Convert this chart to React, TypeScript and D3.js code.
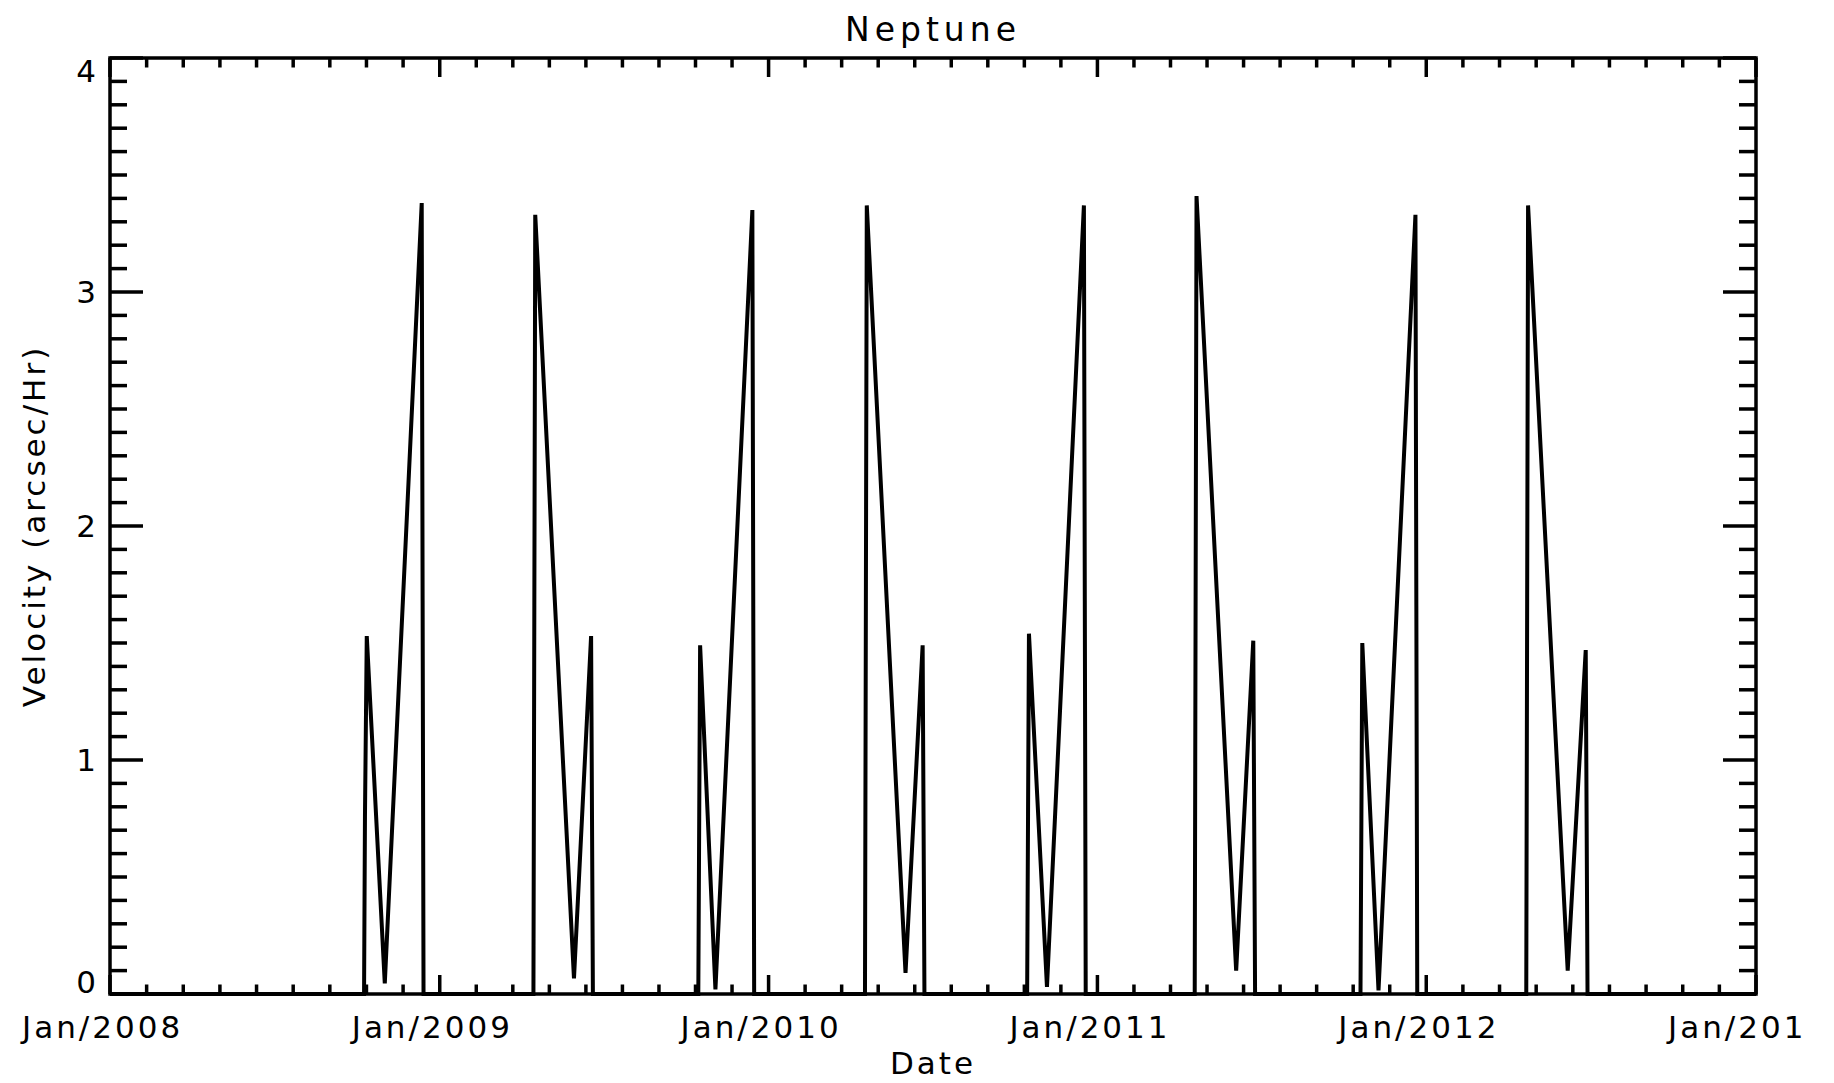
import React from "react";
import * as d3 from "d3";

const sampleDates: string[] = [
  "2008-01-01",
  "2008-10-09", "2008-10-10", "2008-10-12", "2008-11-01", "2008-12-12", "2008-12-13", "2008-12-14",
  "2009-04-15", "2009-04-16", "2009-04-17", "2009-05-30", "2009-06-18", "2009-06-19", "2009-06-20",
  "2009-10-15", "2009-10-16", "2009-10-17", "2009-11-03", "2009-12-14", "2009-12-15", "2009-12-16",
  "2010-04-18", "2010-04-19", "2010-04-20", "2010-06-02", "2010-06-21", "2010-06-22", "2010-06-23",
  "2010-10-15", "2010-10-16", "2010-10-17", "2010-11-06", "2010-12-17", "2010-12-18", "2010-12-19",
  "2011-04-19", "2011-04-20", "2011-04-21", "2011-06-04", "2011-06-23", "2011-06-24", "2011-06-25",
  "2011-10-20", "2011-10-21", "2011-10-22", "2011-11-09", "2011-12-20", "2011-12-21", "2011-12-22",
  "2012-04-21", "2012-04-22", "2012-04-23", "2012-06-06", "2012-06-26", "2012-06-27", "2012-06-28",
  "2013-01-01",
];

const velocities: number[] = [
  0,
  0, 0.76, 1.53, 0.045, 3.38, 1.68, 0,
  0, 1.66, 3.33, 0.067, 1.53, 0.76, 0,
  0, 0.75, 1.49, 0.02, 3.35, 1.66, 0,
  0, 1.68, 3.37, 0.09, 1.49, 0.75, 0,
  0, 0.77, 1.54, 0.03, 3.37, 1.68, 0,
  0, 1.7, 3.41, 0.1, 1.51, 0.76, 0,
  0, 0.75, 1.5, 0.015, 3.33, 1.66, 0,
  0, 1.69, 3.37, 0.1, 1.47, 0.74, 0,
  0,
];

const xTickDates: string[] = ["2008-01-01", "2009-01-01", "2010-01-01", "2011-01-01", "2012-01-01", "2013-01-01"];
const xTickLabels: string[] = ["Jan/2008", "Jan/2009", "Jan/2010", "Jan/2011", "Jan/2012", "Jan/201"];
const yTickValues: number[] = [0, 1, 2, 3, 4];
const yTickLabels: string[] = ["0", "1", "2", "3", "4"];

const W = 1834;
const H = 1083;
const L = 110, R = 1756, T = 58, B = 994;
const FONT = "'DejaVu Sans', sans-serif";

export default function App() {
  const parse = d3.utcParse("%Y-%m-%d");
  const xTicks = xTickDates.map((d) => parse(d) as Date);
  const x = d3.scaleUtc().domain([xTicks[0], xTicks[xTicks.length - 1]]).range([L, R]);
  const y = d3.scaleLinear().domain([0, 4]).range([B, T]);

  const data = sampleDates.map((d, i) => ({ date: parse(d) as Date, v: velocities[i] }));
  const line = d3
    .line<{ date: Date; v: number }>()
    .x((d) => x(d.date))
    .y((d) => y(d.v));

  // minor ticks: 9 intervals per year on x, 10 per unit on y
  const xMinor: number[] = [];
  for (let i = 0; i < xTicks.length - 1; i++) {
    const a = x(xTicks[i]);
    const b = x(xTicks[i + 1]);
    for (let k = 1; k < 9; k++) xMinor.push(a + ((b - a) * k) / 9);
  }
  const yMinor: number[] = [];
  for (let i = 0; i < yTickValues.length - 1; i++) {
    for (let k = 1; k < 10; k++) yMinor.push(y(yTickValues[i] + k / 10));
  }

  const xMinLen = 9.5, xMajLen = 19;
  const yMinLen = 17, yMajLen = 33;
  const sw = 3.5;

  const ticks: JSX.Element[] = [];
  xMinor.forEach((px, i) => {
    ticks.push(<line key={"xb" + i} x1={px} x2={px} y1={B} y2={B - xMinLen} />);
    ticks.push(<line key={"xt" + i} x1={px} x2={px} y1={T} y2={T + xMinLen} />);
  });
  xTicks.forEach((d, i) => {
    const px = x(d);
    ticks.push(<line key={"xB" + i} x1={px} x2={px} y1={B} y2={B - xMajLen} />);
    ticks.push(<line key={"xT" + i} x1={px} x2={px} y1={T} y2={T + xMajLen} />);
  });
  yMinor.forEach((py, i) => {
    ticks.push(<line key={"yl" + i} x1={L} x2={L + yMinLen} y1={py} y2={py} />);
    ticks.push(<line key={"yr" + i} x1={R} x2={R - yMinLen} y1={py} y2={py} />);
  });
  yTickValues.forEach((v, i) => {
    const py = y(v);
    ticks.push(<line key={"yL" + i} x1={L} x2={L + yMajLen} y1={py} y2={py} />);
    ticks.push(<line key={"yR" + i} x1={R} x2={R - yMajLen} y1={py} y2={py} />);
  });

  const labelStyle = { fontFamily: FONT, fontSize: 31, letterSpacing: 3 } as React.CSSProperties;

  return (
    <svg
      width={W}
      height={H}
      style={{ position: "absolute", left: 0, top: 0, background: "#fff" }}
    >
      <rect x={0} y={0} width={W} height={H} fill="#fff" />
      <path d={line(data) || ""} fill="none" stroke="#000" strokeWidth={4} />
      <g stroke="#000" strokeWidth={sw}>
        {ticks}
      </g>
      <rect x={L} y={T} width={R - L} height={B - T} fill="none" stroke="#000" strokeWidth={sw} />

      {xTicks.map((d, i) => (
        <text key={"xl" + i} x={x(d) - 88} y={1038} style={labelStyle} fill="#000">
          {xTickLabels[i]}
        </text>
      ))}
      {yTickValues.map((v, i) => {
        const dy = i === 0 ? -12 : i === yTickValues.length - 1 ? 13 : 0;
        return (
          <text
            key={"yl" + i}
            x={96}
            y={y(v) + dy}
            textAnchor="end"
            dominantBaseline="central"
            style={{ ...labelStyle, letterSpacing: 0 }}
            fill="#000"
          >
            {yTickLabels[i]}
          </text>
        );
      })}
      <text x={(L + R) / 2} y={41} textAnchor="middle" style={{ ...labelStyle, fontSize: 33, letterSpacing: 5 }} fill="#000">
        Neptune
      </text>
      <text x={(L + R) / 2} y={1074} textAnchor="middle" style={labelStyle} fill="#000">
        Date
      </text>
      <text
        transform={`translate(45, ${(T + B) / 2}) rotate(-90)`}
        textAnchor="middle"
        style={labelStyle}
        fill="#000"
      >
        Velocity (arcsec/Hr)
      </text>
    </svg>
  );
}
